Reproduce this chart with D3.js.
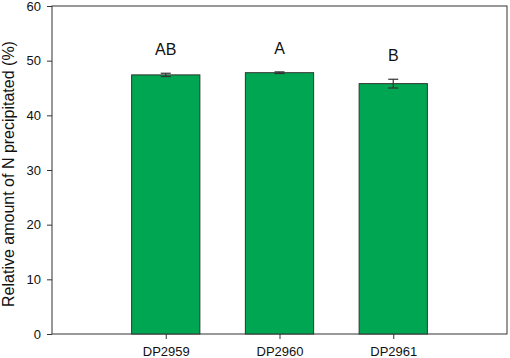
<!DOCTYPE html>
<html>
<head>
<meta charset="utf-8">
<script src="https://cdn.jsdelivr.net/npm/d3@7"></script>
<style>
  body { margin: 0; background: #fff; }
  svg { display: block; }
</style>
</head>
<body>
<script>
const categories = ["DP2959", "DP2960", "DP2961"];
const means = [47.4, 47.8, 45.8];
const errors = [0.3, 0.15, 0.8];
const letters = ["AB", "A", "B"];
const yTicks = [0, 10, 20, 30, 40, 50, 60];

const width = 510, height = 358;
const margin = {top: 6, right: 3, bottom: 24, left: 52};
const font = "'Liberation Sans', Arial, sans-serif";

const svg = d3.select("body").append("svg")
    .attr("width", width)
    .attr("height", height)
    .attr("font-family", font);

const x = d3.scaleLinear().domain([0, categories.length + 1]).range([margin.left, width - margin.right]);
const y = d3.scaleLinear().domain([0, 60]).range([height - margin.bottom, margin.top]);
const barW = x(0.6) - x(0);

// frame
svg.append("rect")
    .attr("x", x(0)).attr("y", y(60))
    .attr("width", x(4) - x(0)).attr("height", y(0) - y(60))
    .attr("fill", "none").attr("stroke", "#333").attr("stroke-width", 1);

// bars
svg.selectAll("rect.bar")
  .data(means)
  .join("rect")
    .attr("class", "bar")
    .attr("x", (d, i) => x(i + 1) - barW / 2)
    .attr("y", d => y(d))
    .attr("width", barW)
    .attr("height", d => y(0) - y(d))
    .attr("fill", "#00a651")
    .attr("stroke", "#333")
    .attr("stroke-width", 1);

// error bars
const eb = svg.selectAll("g.err")
  .data(means)
  .join("g")
    .attr("stroke", "#333")
    .attr("stroke-width", 1.2);
eb.append("line")
    .attr("x1", (d, i) => x(i + 1)).attr("x2", (d, i) => x(i + 1))
    .attr("y1", (d, i) => y(d + errors[i])).attr("y2", (d, i) => y(d - errors[i]));
eb.append("line")
    .attr("x1", (d, i) => x(i + 1) - 5).attr("x2", (d, i) => x(i + 1) + 5)
    .attr("y1", (d, i) => y(d + errors[i])).attr("y2", (d, i) => y(d + errors[i]));
eb.append("line")
    .attr("x1", (d, i) => x(i + 1) - 5).attr("x2", (d, i) => x(i + 1) + 5)
    .attr("y1", (d, i) => y(d - errors[i])).attr("y2", (d, i) => y(d - errors[i]));

// letters
svg.selectAll("text.letter")
  .data(letters)
  .join("text")
    .attr("x", (d, i) => x(i + 1))
    .attr("y", (d, i) => y(means[i] + errors[i]) - 18)
    .attr("text-anchor", "middle")
    .attr("font-size", 16)
    .attr("fill", "#111")
    .text(d => d);

// y axis
const yAxis = svg.append("g")
    .attr("transform", `translate(${x(0)},0)`)
    .call(d3.axisLeft(y).tickValues(yTicks).tickSize(5).tickPadding(6));
yAxis.select(".domain").remove();
yAxis.selectAll("line").attr("stroke", "#333");
yAxis.selectAll("text").attr("font-size", 13).attr("fill", "#111").attr("font-family", font);

// x axis
const xAxis = svg.append("g")
    .attr("transform", `translate(0,${y(0)})`)
    .call(d3.axisBottom(x).tickValues([1, 2, 3]).tickFormat((d) => categories[d - 1]).tickSize(5).tickPadding(8));
xAxis.select(".domain").remove();
xAxis.selectAll("line").attr("stroke", "#333");
xAxis.selectAll("text").attr("font-size", 13).attr("fill", "#111").attr("font-family", font);

// y label
svg.append("text")
    .attr("transform", `translate(14,${(y(0) + y(60)) / 2 + 4}) rotate(-90)`)
    .attr("text-anchor", "middle")
    .attr("font-size", 16)
    .attr("fill", "#111")
    .text("Relative amount of N precipitated (%)");
</script>
</body>
</html>
